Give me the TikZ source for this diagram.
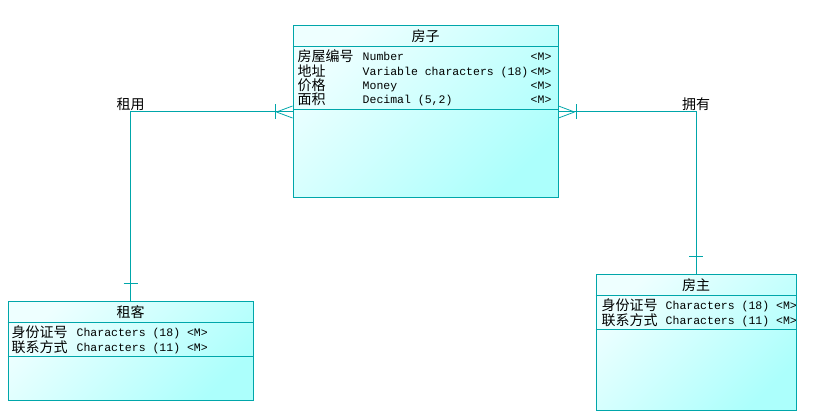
\documentclass[tikz,border=0pt]{standalone}
\usepackage{fontspec}
\setmonofont{Liberation Mono}
\newfontfamily\cjk{Noto Sans CJK SC}
\usetikzlibrary{positioning,calc}
\definecolor{erline}{RGB}{0,166,170}
\definecolor{erlight}{RGB}{238,255,255}
\definecolor{erdark}{RGB}{172,255,252}
\newcommand{\zh}[1]{\smash{\raisebox{-1pt}{\cjk\fontsize{14}{14.4}\selectfont #1}}}

\begin{document}
\begin{tikzpicture}[x=1pt, y=-1pt,
        entity/.style={draw=erline, line width=1pt, top color=erlight,
                       bottom color=erdark, shading angle=45, inner sep=0pt},
        etitle/.style={anchor=north, minimum height=20.5pt, inner sep=0pt,
                       font=\cjk\fontsize{14}{14}\selectfont},
        attrs/.style={anchor=north west, inner xsep=0pt, inner ysep=1pt,
                      font=\ttfamily\fontsize{11.5}{14.4}\selectfont},
        sep/.style={draw=erline, line width=1pt},
        rel/.style={draw=erline, line width=1pt},
        crow/.style={draw=erline, line width=0.8pt},
        rlabel/.style={anchor=south, inner sep=1pt,
                       font=\cjk\fontsize{14}{14}\selectfont}
    ]
        \useasboundingbox (0,0) rectangle (815,419);

        \node[entity, minimum width=265pt, minimum height=172pt] (house) at (425.5,112) {};
        \node[entity, minimum width=245pt, minimum height=99pt] (renter) at (130.5,351.5) {};
        \node[entity, minimum width=200pt, minimum height=136pt] (owner) at (696,343) {};

        \node[etitle] (houset) at (house.north) {房子};
        \node[etitle] (rentert) at (renter.north) {租客};
        \node[etitle] (ownert) at (owner.north) {房主};

        \node[attrs] (housea) at ([xshift=5pt,yshift=-24pt]house.north west) {%
            \begin{tabular}{@{}p{65pt}@{}p{168pt}@{}r@{}}
                \zh{房屋编号} & Number & <M>\\
                \zh{地址} & Variable characters (18) & <M>\\
                \zh{价格} & Money & <M>\\
                \zh{面积} & Decimal (5,2) & <M>
            \end{tabular}};
        \node[attrs] (rentera) at ([xshift=4pt,yshift=-24pt]renter.north west) {%
            \begin{tabular}{@{}p{65pt}@{}l@{}}
                \zh{身份证号} & Characters (18) <M>\\
                \zh{联系方式} & Characters (11) <M>
            \end{tabular}};
        \begin{scope}
            \clip (owner.north west) rectangle ([xshift=-0.5pt]owner.south east);
            \node[attrs] (ownera) at ([xshift=6pt,yshift=-24pt]owner.north west) {%
                \begin{tabular}{@{}p{64pt}@{}l@{}}
                    \zh{身份证号} & Characters (18) <M>\\
                    \zh{联系方式} & Characters (11) <M>
                \end{tabular}};
        \end{scope}

        % title and attribute separators
        \draw[sep] (house.west |- houset.south) -- (house.east |- houset.south);
        \draw[sep] (house.west |- housea.south) -- (house.east |- housea.south);
        \draw[sep] (renter.west |- rentert.south) -- (renter.east |- rentert.south);
        \draw[sep] (renter.west |- rentera.south) -- (renter.east |- rentera.south);
        \draw[sep] (owner.west |- ownert.south) -- (owner.east |- ownert.south);
        \draw[sep] (owner.west |- ownera.south) -- (owner.east |- ownera.south);

        % relationships
        \draw[rel] (house.west) -| (renter.north);
        \draw[rel] (house.east) -| (owner.north);
        \node[rlabel] (rent) at (renter.north |- house.west) {租用};
        \node[rlabel] (own) at (owner.north |- house.west) {拥有};

        \draw[crow] ([xshift=-16pt]house.west) -- ([yshift=6pt]house.west)
            ([xshift=-16pt]house.west) -- ([yshift=-6pt]house.west);
        \draw[rel] ([xshift=-17.5pt,yshift=7.5pt]house.west)
            -- ([xshift=-17.5pt,yshift=-7.5pt]house.west);
        \draw[crow] ([xshift=16pt]house.east) -- ([yshift=6pt]house.east)
            ([xshift=16pt]house.east) -- ([yshift=-6pt]house.east);
        \draw[rel] ([xshift=17.5pt,yshift=7.5pt]house.east)
            -- ([xshift=17.5pt,yshift=-7.5pt]house.east);
        \draw[rel] ([xshift=-7pt,yshift=18pt]renter.north)
            -- ([xshift=7pt,yshift=18pt]renter.north);
        \draw[rel] ([xshift=-7pt,yshift=18pt]owner.north)
            -- ([xshift=7pt,yshift=18pt]owner.north);
    \end{tikzpicture}
\end{document}
